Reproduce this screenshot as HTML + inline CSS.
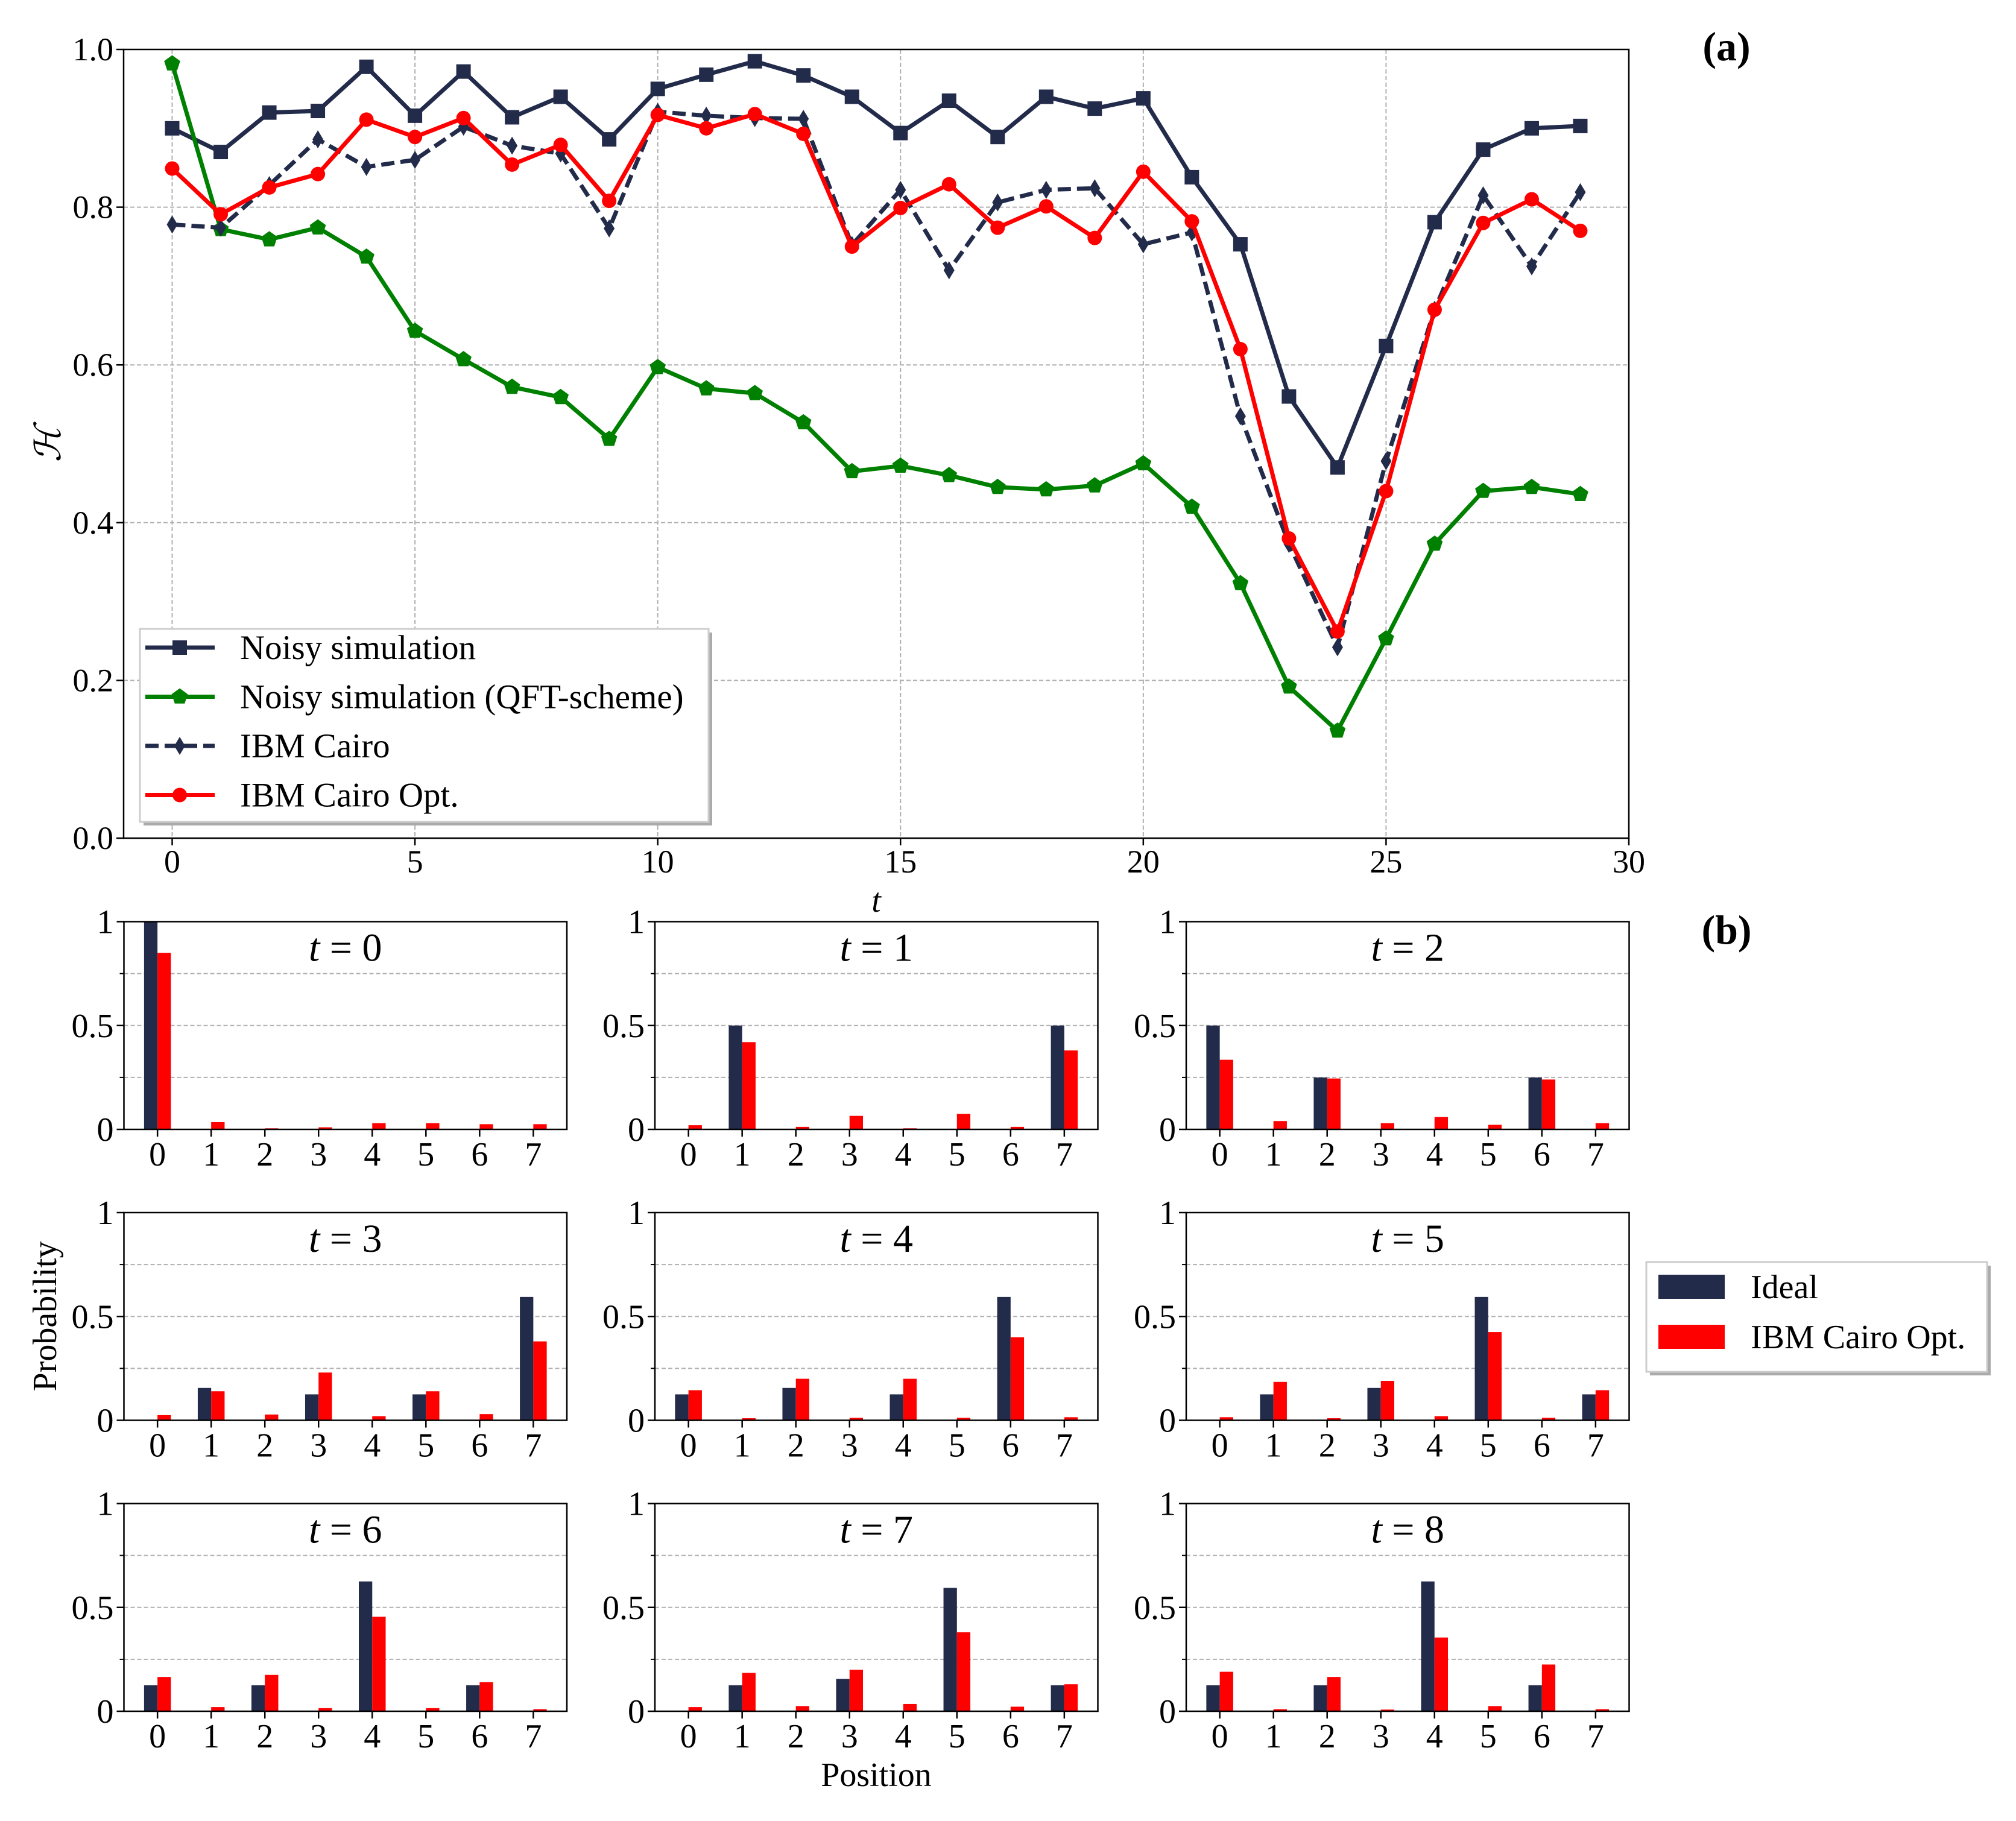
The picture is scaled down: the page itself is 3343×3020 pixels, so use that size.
<!DOCTYPE html>
<html><head><meta charset="utf-8"><style>
html,body{margin:0;padding:0;background:#fff;}
svg{display:block;font-family:"Liberation Serif",serif;}
</style></head><body>
<svg id="fig" width="3343" height="3020" viewBox="0 0 3343 3020" xmlns="http://www.w3.org/2000/svg">
<rect width="3343" height="3020" fill="#fff"/>
<g id="pa"></g>
<g id="pb"></g>
</svg>
<script>
// ---- Panel (a) data ----
const tSteps = [0,1,2,3,4,5,6,7,8,9,10,11,12,13,14,15,16,17,18,19,20,21,22,23,24,25,26,27,28,29];
const noisySim = [0.90,0.87,0.92,0.922,0.978,0.916,0.972,0.914,0.94,0.886,0.95,0.968,0.985,0.967,0.94,0.894,0.935,0.889,0.94,0.925,0.938,0.838,0.753,0.56,0.47,0.624,0.781,0.873,0.90,0.903];
const qftSim = [0.982,0.772,0.759,0.774,0.737,0.643,0.607,0.572,0.559,0.506,0.597,0.570,0.564,0.527,0.465,0.472,0.460,0.445,0.442,0.447,0.475,0.420,0.323,0.192,0.136,0.253,0.373,0.440,0.445,0.436];
const ibmCairo = [0.778,0.774,0.828,0.886,0.851,0.860,0.902,0.878,0.868,0.773,0.921,0.916,0.913,0.912,0.752,0.822,0.720,0.806,0.822,0.824,0.753,0.768,0.535,0.373,0.242,0.478,0.670,0.815,0.725,0.819];
const ibmCairoOpt = [0.849,0.791,0.825,0.842,0.911,0.889,0.913,0.854,0.879,0.808,0.917,0.900,0.918,0.893,0.750,0.799,0.829,0.774,0.801,0.761,0.845,0.782,0.620,0.380,0.262,0.440,0.670,0.780,0.810,0.770];
const xTicksA = [0,5,10,15,20,25,30];
const yTicksA = [0.0,0.2,0.4,0.6,0.8,1.0];
// ---- Panel (b) data ----
const positions = [0,1,2,3,4,5,6,7];
const stepLabels = [0,1,2,3,4,5,6,7,8];
const ideal0=[1,0,0,0,0,0,0,0];
const ideal1=[0,0.5,0,0,0,0,0,0.5];
const ideal2=[0.5,0,0.25,0,0,0,0.25,0];
const ideal3=[0,0.156,0,0.125,0,0.125,0,0.594];
const ideal4=[0.125,0,0.156,0,0.125,0,0.594,0];
const ideal5=[0,0.125,0,0.156,0,0.594,0,0.125];
const ideal6=[0.125,0,0.125,0,0.625,0,0.125,0];
const ideal7=[0,0.125,0,0.156,0,0.594,0,0.125];
const ideal8=[0.125,0,0.125,0,0.625,0,0.125,0];
const opt0=[0.85,0.035,0.005,0.01,0.03,0.03,0.025,0.025];
const opt1=[0.02,0.42,0.012,0.065,0.005,0.075,0.012,0.38];
const opt2=[0.335,0.04,0.245,0.03,0.06,0.022,0.24,0.03];
const opt3=[0.025,0.14,0.028,0.23,0.02,0.14,0.03,0.38];
const opt4=[0.145,0.01,0.2,0.012,0.2,0.012,0.4,0.015];
const opt5=[0.015,0.185,0.01,0.19,0.02,0.425,0.012,0.145];
const opt6=[0.165,0.02,0.175,0.015,0.455,0.015,0.14,0.01];
const opt7=[0.02,0.185,0.025,0.2,0.035,0.38,0.022,0.13];
const opt8=[0.19,0.01,0.165,0.008,0.355,0.025,0.225,0.01];
const idealAll=[ideal0,ideal1,ideal2,ideal3,ideal4,ideal5,ideal6,ideal7,ideal8];
const optAll=[opt0,opt1,opt2,opt3,opt4,opt5,opt6,opt7,opt8];
const yTicksB=[0,0.5,1];
const yLabelsB=["0","0.5","1"];

const NS="http://www.w3.org/2000/svg";
const NAVY="#232b4b", GREEN="#008000", RED="#ff0000", GRID="#b0b0b0";
function mk(parent,tag,attrs,text){const e=document.createElementNS(NS,tag);for(const k in attrs)e.setAttribute(k,attrs[k]);if(text!==undefined)e.textContent=text;parent.appendChild(e);return e;}

// ===== Panel A =====
const pa=document.getElementById('pa');
const AL=205,AR=2701,AT=82,AB=1390;
const xMinA=-1,xMaxA=30;
const xA=v=>AL+(v-xMinA)/(xMaxA-xMinA)*(AR-AL);
const yA=v=>AB-v*(AB-AT);
xTicksA.forEach(v=>{
  if(v>xMinA&&v<xMaxA){const g=mk(pa,'line',{x1:xA(v),x2:xA(v),y1:AT,y2:AB,stroke:GRID,'stroke-width':2,'stroke-dasharray':'7,4'});
  }
  mk(pa,'line',{x1:xA(v),x2:xA(v),y1:AB,y2:AB+12,stroke:'#000','stroke-width':2.5});
  const t=mk(pa,'text',{x:xA(v),y:1447,'font-size':54,'text-anchor':'middle'},String(v));
  
});
yTicksA.forEach(v=>{
  if(v>0&&v<1){const g=mk(pa,'line',{x1:AL,x2:AR,y1:yA(v),y2:yA(v),stroke:GRID,'stroke-width':2,'stroke-dasharray':'7,4'});
  }
  mk(pa,'line',{x1:AL-12,x2:AL,y1:yA(v),y2:yA(v),stroke:'#000','stroke-width':2.5});
  const t=mk(pa,'text',{x:188,y:yA(v)+18,'font-size':54,'text-anchor':'end'},v.toFixed(1));
  
});
function marker(g,type,x,y,color){
  if(type==='sq') return mk(g,'rect',{x:x-12,y:y-12,width:24,height:24,fill:color});
  if(type==='pent'){let p=[];for(let i=0;i<5;i++){const a=-Math.PI/2+i*2*Math.PI/5;p.push((x+14*Math.cos(a)).toFixed(1)+','+(y+14*Math.sin(a)).toFixed(1));}return mk(g,'polygon',{points:p.join(' '),fill:color});}
  if(type==='dia') return mk(g,'polygon',{points:`${x},${y-15} ${x+9},${y} ${x},${y+15} ${x-9},${y}`,fill:color});
  if(type==='circ') return mk(g,'circle',{cx:x,cy:y,r:12,fill:color});
}
const seriesA=[
  {name:'series-noisy-simulation',data:noisySim,color:NAVY,m:'sq',dash:null},
  {name:'series-noisy-simulation-qft',data:qftSim,color:GREEN,m:'pent',dash:null},
  {name:'series-ibm-cairo',data:ibmCairo,color:NAVY,m:'dia',dash:'22,10'},
  {name:'series-ibm-cairo-opt',data:ibmCairoOpt,color:RED,m:'circ',dash:null}
];
seriesA.forEach(s=>{
  const g=mk(pa,'g',{});
  
  
  const pts=s.data.map((v,i)=>xA(tSteps[i]).toFixed(1)+','+yA(v).toFixed(1)).join(' ');
  const pl=mk(g,'polyline',{points:pts,fill:'none',stroke:s.color,'stroke-width':7,'stroke-linejoin':'round'});
  if(s.dash)pl.setAttribute('stroke-dasharray',s.dash);
  s.data.forEach((v,i)=>{const m=marker(g,s.m,xA(tSteps[i]),yA(v),s.color);
    });
});
mk(pa,'rect',{x:AL,y:AT,width:AR-AL,height:AB-AT,fill:'none',stroke:'#000','stroke-width':2.5});
// legend A
const lg=mk(pa,'g',{});


mk(lg,'rect',{x:238,y:1049,width:943,height:320,fill:'#aaa'});
mk(lg,'rect',{x:232,y:1043,width:943,height:320,fill:'#fff',stroke:'#ccc','stroke-width':3});
const legA=[['Noisy simulation',NAVY,'sq',null],['Noisy simulation (QFT-scheme)',GREEN,'pent',null],['IBM Cairo',NAVY,'dia','22,10'],['IBM Cairo Opt.',RED,'circ',null]];
legA.forEach((l,i)=>{
  const y=1074+i*81.5;
  const e=mk(lg,'g',{});
  
  
  const ln=mk(e,'line',{x1:241,x2:356,y1:y,y2:y,stroke:l[1],'stroke-width':7});
  if(l[3])ln.setAttribute('stroke-dasharray',l[3]);
  marker(e,l[2],298,y,l[1]);
  mk(e,'text',{x:398,y:y+19,'font-size':57},l[0]);
});
let t=mk(pa,'text',{x:0,y:0,'font-size':60,'font-style':'italic','text-anchor':'middle',transform:'translate(100,737) rotate(-90)'},'ℋ');

t=mk(pa,'text',{x:1453,y:1512,'font-size':56,'font-style':'italic','text-anchor':'middle'},'t');

t=mk(pa,'text',{x:2863,y:100,'font-size':68,'font-weight':'bold','text-anchor':'middle'},'(a)');


// ===== Panel B =====
const pb=document.getElementById('pb');
const colL=[205.5,1086,1967], PW=734.5;
const rowT=[1528.5,2011,2493.5], PH=344.5;
const xMinB=-0.625,xMaxB=7.625,BW=0.25;
stepLabels.forEach((st,k)=>{
  const L=colL[k%3],T=rowT[Math.floor(k/3)],B=T+PH,R=L+PW;
  const xB=v=>L+(v-xMinB)/(xMaxB-xMinB)*PW;
  const yB=v=>B-v*PH;
  const g=mk(pb,'g',{});
  
  
  [0.25,0.5,0.75].forEach(v=>{mk(g,'line',{x1:L,x2:R,y1:yB(v),y2:yB(v),stroke:GRID,'stroke-width':2,'stroke-dasharray':'7,4'});
    mk(g,'line',{x1:L-7,x2:L,y1:yB(v),y2:yB(v),stroke:'#000','stroke-width':2});});
  yTicksB.forEach((v,i)=>{mk(g,'line',{x1:L-12,x2:L,y1:yB(v),y2:yB(v),stroke:'#000','stroke-width':2.5});
    const tl=mk(g,'text',{x:L-17,y:yB(v)+19,'font-size':56,'text-anchor':'end'},yLabelsB[i]);
    });
  positions.forEach((p,i)=>{
    const b1=mk(g,'rect',{x:xB(p-BW),y:yB(idealAll[k][i]),width:xB(BW)-xB(0),height:yB(0)-yB(idealAll[k][i]),fill:NAVY});
    
    const b2=mk(g,'rect',{x:xB(p),y:yB(optAll[k][i]),width:xB(BW)-xB(0),height:yB(0)-yB(optAll[k][i]),fill:RED});
    
    mk(g,'line',{x1:xB(p),x2:xB(p),y1:B,y2:B+12,stroke:'#000','stroke-width':2.5});
    const tl=mk(g,'text',{x:xB(p),y:B+60,'font-size':56,'text-anchor':'middle'},String(p));
    
  });
  mk(g,'rect',{x:L,y:T,width:PW,height:PH,fill:'none',stroke:'#000','stroke-width':2.5});
  const tt=mk(g,'text',{x:L+PW/2,y:T+65,'font-size':66,'text-anchor':'middle'});
  
  mk(tt,'tspan',{'font-style':'italic'},'t');
  mk(tt,'tspan',{},' = '+st);
});
const lb=mk(pb,'g',{});


mk(lb,'rect',{x:2736,y:2099,width:565,height:182,fill:'#aaa'});
mk(lb,'rect',{x:2730,y:2093,width:565,height:182,fill:'#fff',stroke:'#ccc','stroke-width':3});
[['Ideal',NAVY,2134],['IBM Cairo Opt.',RED,2217]].forEach(l=>{
  const e=mk(lb,'g',{});
  
  
  mk(e,'rect',{x:2750,y:l[2]-20,width:110,height:40,fill:l[1]});
  mk(e,'text',{x:2903,y:l[2]+19,'font-size':56},l[0]);
});
t=mk(pb,'text',{x:0,y:0,'font-size':56,'text-anchor':'middle',transform:'translate(93,2183) rotate(-90)'},'Probability');

t=mk(pb,'text',{x:1453,y:2962,'font-size':56,'text-anchor':'middle'},'Position');

t=mk(pb,'text',{x:2863,y:1565,'font-size':68,'font-weight':'bold','text-anchor':'middle'},'(b)');

</script>
</body></html>
